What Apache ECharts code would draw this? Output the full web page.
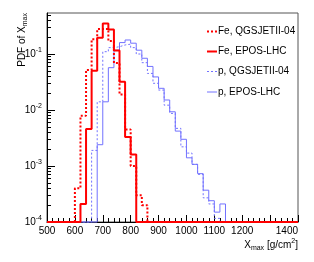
<!DOCTYPE html>
<html><head><meta charset="utf-8">
<script src="https://cdn.jsdelivr.net/npm/echarts@6/dist/echarts.min.js"></script>
<style>html,body{margin:0;padding:0;background:#fff}#c{width:314px;height:262px}</style>
</head><body><div id="c"></div>
<script>
// ---- data ----
const binWidth = 20;
const xMin = 500, xMax = 1400, xStep = 100;
const yMin = 1e-4, yMax = 0.54;
const yMajorTicks = [1e-4, 1e-3, 1e-2, 1e-1];
const yMinorTicks = [
  2e-4,3e-4,4e-4,5e-4,6e-4,7e-4,8e-4,9e-4,
  2e-3,3e-3,4e-3,5e-3,6e-3,7e-3,8e-3,9e-3,
  2e-2,3e-2,4e-2,5e-2,6e-2,7e-2,8e-2,9e-2,
  2e-1,3e-1,4e-1,5e-1
];
const seriesNames = ['Fe, QGSJETII-04', 'Fe, EPOS-LHC', 'p, QGSJETII-04', 'p, EPOS-LHC'];

const feQgsStart = 600;
const feQgsValues = [4.0e-4, 7.9e-3, 0.052, 0.183, 0.28, 0.28, 0.17, 0.069, 0.019, 4.5e-3, 1.0e-3, 3.0e-4, 2.0e-4];
const feEposStart = 620;
const feEposValues = [2.1e-4, 4.6e-3, 0.05, 0.195, 0.35, 0.275, 0.115, 0.032, 3.3e-3, 1.6e-3];
const pQgsStart = 660;
const pQgsValues = [1.9e-3, 0.014, 0.11, 0.13, 0.135, 0.145, 0.15, 0.13, 0.10, 0.07, 0.045, 0.030, 0.0227, 0.0122, 0.0087, 0.0047, 0.0022, 0.0017, 0.00107, 0.00071, 0.00027, 0.00021, 0.000116];
const pEposStart = 680;
const pEposValues = [2.4e-3, 0.014, 0.057, 0.117, 0.16, 0.178, 0.156, 0.117, 0.084, 0.06, 0.039, 0.0244, 0.0151, 0.0093, 0.0042, 0.0030, 0.0014, 0.00107, 0.00073, 0.00037, 0.00024, 0.00015, 0.00021];

// ---- build histogram step data ----
function hist(start, vals) {
  const d = [[xMin, yMin], [start, yMin]];
  vals.forEach((v, i) => d.push([start + i * binWidth, v]));
  d.push([start + vals.length * binWidth, yMin]);
  d.push([xMax, yMin]);
  return d;
}
const FONT = 'Liberation Sans, Arial, Helvetica, sans-serif';
const RED = '#ff0000', BLUE = '#7272ff';
const styles = [
  {color: RED, width: 2, dashed: true},
  {color: RED, width: 2, dashed: false},
  {color: BLUE, width: 1, dashed: true},
  {color: BLUE, width: 1, dashed: false}
];

const chart = echarts.init(document.getElementById('c'), null, {renderer: 'canvas'});
function line(idx, data, z) {
  const s = styles[idx];
  return {
    name: seriesNames[idx], type: 'line', step: 'end', data, symbol: 'none', clip: false, z,
    lineStyle: {color: s.color, width: s.width, type: s.dashed ? [2, 2] : 'solid'},
    itemStyle: {color: s.color},
    emphasis: {disabled: true}, animation: false
  };
}
// legend drawn as graphic entries (line sample + text)
const legendGraphics = [];
const legendTop = [31.5, 51.5, 71.5, 92];
seriesNames.forEach((n, i) => {
  const s = styles[i];
  legendGraphics.push({
    type: 'line', shape: {x1: 207, y1: legendTop[i], x2: 217, y2: legendTop[i]},
    style: {stroke: s.color, lineWidth: s.width, lineDash: s.dashed ? [2, 2] : null}
  });
  legendGraphics.push({
    type: 'text', x: 218, y: legendTop[i],
    style: {text: n, fontSize: 10, fontFamily: FONT, fill: '#000', align: 'left', verticalAlign: 'middle'}
  });
});

chart.setOption({
  animation: false,
  textStyle: {fontFamily: FONT},
  grid: {left: 47, right: 16, top: 13, bottom: 40, show: true, borderColor: '#555', borderWidth: 1, backgroundColor: 'transparent'},
  xAxis: {
    type: 'value', min: xMin, max: xMax, interval: xStep,
    axisLine: {show: true, lineStyle: {color: '#000', width: 1}},
    axisTick: {show: true, inside: true, length: 7, lineStyle: {color: '#000'}},
    minorTick: {show: true, splitNumber: 5, length: 4, lineStyle: {color: '#000'}},
    axisLabel: {fontSize: 10, color: '#000', margin: 4, fontFamily: FONT, showMinLabel: true, showMaxLabel: true, hideOverlap: false, alignMaxLabel: 'right', formatter: v => String(v)},
    splitLine: {show: false}
  },
  yAxis: [
    {
      type: 'log', logBase: 10, min: yMin, max: yMax,
      axisLine: {show: true, lineStyle: {color: '#000', width: 1}},
      axisTick: {show: true, inside: true, length: 8, customValues: yMajorTicks, lineStyle: {color: '#000'}},
      axisLabel: {
        customValues: yMajorTicks, margin: 5, color: '#000',
        formatter: v => '{b|10}{s|' + Math.round(Math.log10(v)) + '}',
        rich: {
          b: {fontSize: 10, color: '#000', fontFamily: FONT, lineHeight: 14},
          s: {fontSize: 7, color: '#000', fontFamily: FONT, verticalAlign: 'top', lineHeight: 9}
        }
      },
      splitLine: {show: false}
    },
    {
      type: 'log', logBase: 10, min: yMin, max: yMax, position: 'left',
      axisLine: {show: false},
      axisTick: {show: true, inside: true, length: 4, customValues: yMinorTicks, lineStyle: {color: '#000'}},
      axisLabel: {show: false},
      splitLine: {show: false}
    }
  ],
  graphic: legendGraphics.concat([
    {
      type: 'text', x: 22, y: 13, rotation: Math.PI / 2,
      style: {
        text: '{m|PDF of X}{s|max}', align: 'right', verticalAlign: 'middle',
        rich: {
          m: {fontSize: 10, fill: '#000', fontFamily: FONT, lineHeight: 14},
          s: {fontSize: 7, fill: '#000', fontFamily: FONT, verticalAlign: 'bottom', lineHeight: 9}
        }
      }
    },
    {
      type: 'text', right: 16, top: 238,
      style: {
        text: '{m|X}{s|max}{m| [g/cm}{u|2}{m|]}',
        rich: {
          m: {fontSize: 10, fill: '#000', fontFamily: FONT, lineHeight: 14},
          s: {fontSize: 7, fill: '#000', fontFamily: FONT, verticalAlign: 'bottom', lineHeight: 9},
          u: {fontSize: 7, fill: '#000', fontFamily: FONT, verticalAlign: 'top', lineHeight: 9}
        }
      }
    }
  ]),
  series: [
    line(2, hist(pQgsStart, pQgsValues), 2),
    line(3, hist(pEposStart, pEposValues), 3),
    line(0, hist(feQgsStart, feQgsValues), 4),
    line(1, hist(feEposStart, feEposValues), 5)
  ]
});
</script></body></html>
